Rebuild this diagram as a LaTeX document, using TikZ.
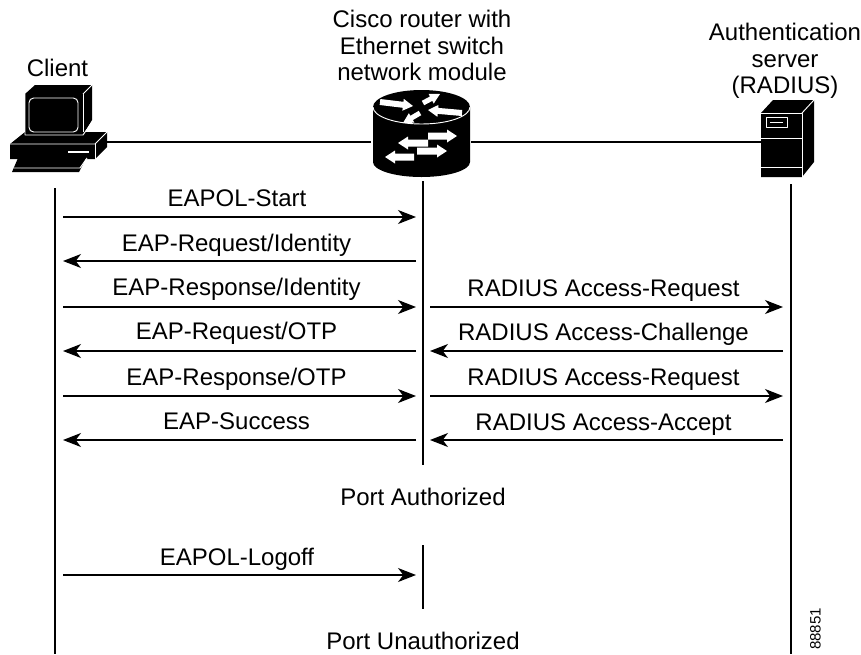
\documentclass[tikz,border=0pt]{standalone}
\usepackage{fontspec}
\setmainfont{Liberation Sans}
\usetikzlibrary{arrows.meta}
\tikzset{
 lbl/.style={inner sep=0pt,font=\fontsize{18pt}{19.7pt}\selectfont,align=center},
 mlbl/.style={lbl,anchor=base},
 life/.style={line width=0.85pt},
 msg/.style={line width=0.85pt,-{Stealth[length=13.5pt,width=10.5pt,inset=4pt]}},
 link/.style={line width=0.85pt},
 wl/.style={white,line width=0.7pt,line join=round}
}
\newcommand{\arr}[5]{% x1 y1 x2 y2 halfwidth: white block arrow
 \begin{scope}[shift={(#1,#2)}]
 \pgfmathsetmacro{\ang}{atan2(#4-#2,#3-#1)}
 \pgfmathsetmacro{\len}{veclen(#3-#1,#4-#2)}
 \fill[white,rotate=-\ang] (0,-#5) -- (\len-10,-#5) -- (\len-10,-#5-3) -- (\len,0) -- (\len-10,#5+3) -- (\len-10,#5) -- (0,#5) -- cycle;
 \end{scope}}
\begin{document}
\begin{tikzpicture}[x=0.75pt,y=-0.75pt]
\useasboundingbox (0,0) rectangle (861,654);
% coordinates
\foreach \n/\x/\y in {cT/55/188,cB/55/654,rT/423/181,rB/423/465,rT2/423/545,rB2/423/609,sT/791/184,sB/791/654,
 a1/63/217,b1/416/217,a2/416/261,b2/63/261,a3/63/307,b3/416/307,a4/416/351,b4/63/351,a5/63/396,b5/416/396,a6/416/440,b6/63/440,a7/63/575,b7/416/575,
 c3/430/307,d3/783/307,c4/783/351,d4/430/351,c5/430/396,d5/783/396,c6/783/440,d6/430/440,
 l1/105/142,l2/371/142,l3/471/142,l4/761/142}
  {\coordinate (\n) at (\x,\y);}
% links
\draw[link] (l1)--(l2);
\draw[link] (l3)--(l4);
% lifelines
\draw[life] (cT)--(cB);
\draw[life] (rT)--(rB);
\draw[life] (rT2)--(rB2);
\draw[life] (sT)--(sB);
% messages
\foreach \p/\q in {a1/b1,a2/b2,a3/b3,a4/b4,a5/b5,a6/b6,a7/b7,c3/d3,c4/d4,c5/d5,c6/d6}
  \draw[msg] (\p)--(\q);
% labels
\node[mlbl] (tClient) at (57.5,76) {Client};
\node[lbl] (tRouter) at (422,45.5) {Cisco router with\\Ethernet switch\\network module};
\node[lbl] (tServer) at (785,61) {Authentication\\server\\(RADIUS)};
\node[mlbl] (m1) at (237,206.5) {EAPOL-Start};
\node[mlbl] (m2) at (236.5,251) {EAP-Request/Identity};
\node[mlbl] (m3) at (236.5,295) {EAP-Response/Identity};
\node[mlbl] (m4) at (236.5,339.5) {EAP-Request/OTP};
\node[mlbl] (m5) at (236.5,385.5) {EAP-Response/OTP};
\node[mlbl] (m6) at (236.5,429.5) {EAP-Success};
\node[mlbl] (m7) at (237,565) {EAPOL-Logoff};
\node[mlbl] (n3) at (603.5,296) {RADIUS Access-Request};
\node[mlbl] (n4) at (603.5,340) {RADIUS Access-Challenge};
\node[mlbl] (n5) at (603.5,385.5) {RADIUS Access-Request};
\node[mlbl] (n6) at (603.5,430) {RADIUS Access-Accept};
\node[mlbl] (p1) at (423,505) {Port Authorized};
\node[mlbl] (p2) at (423,649) {Port Unauthorized};
\node[inner sep=0pt,rotate=90,font=\fontsize{11.3pt}{13pt}\selectfont] (num) at (815.5,629) {88851};
% client icon
\fill[black] (25,94) -- (35,85) -- (92,85) -- (92,120) -- (83,135) -- (25,135) -- cycle;
\draw[wl] (25,94)--(83,94)--(83,135);
\draw[wl] (83,94)--(92,85);
\draw[wl,rounded corners=3.5pt] (29,98) rectangle (78,132);
\fill[black] (10,144) -- (25,132) -- (107,132) -- (107,147) -- (95,159) -- (10,159) -- cycle;
\fill[black] (25,94)--(83,94)--(83,135)--(25,135)--cycle;
\draw[wl,rounded corners=3.5pt] (29,98) rectangle (78,132);
\draw[wl] (25,94)--(25,135)--(83,135)--(92,122);
\draw[wl] (10,144)--(95,144)--(107,132);
\draw[wl] (95,144)--(95,159);
\draw[white,line width=1pt] (68,152)--(89,152);
\fill[black] (18,158) -- (86,158) -- (79,172) -- (12,172) -- cycle;
\draw[wl] (14,168)--(80,168)--(87,158);
% router icon
\fill[black] (373,107) arc[start angle=180,end angle=360,x radius=48.5,y radius=17] -- (470,162) arc[start angle=0,end angle=180,x radius=48.5,y radius=15] -- cycle;
\draw[wl] (373,107) arc[start angle=180,end angle=0,x radius=48.5,y radius=17];
\arr{380}{102}{413}{106}{3}
\arr{462}{113}{428}{110}{3}
\arr{423}{103}{440}{94}{2.5}
\arr{420}{113}{403}{123}{2.5}
\arr{428}{136}{457}{136}{3.5}
\arr{428}{143}{398}{143}{3.5}
\arr{417}{151}{447}{151}{3.5}
\arr{414}{157}{385}{157}{3.5}
% server icon
\fill[black] (761,113) -- (773,100) -- (814,100) -- (814,162) -- (802,177) -- (761,177) -- cycle;
\draw[wl] (761,113)--(802,113)--(802,177);
\draw[wl] (802,113)--(814,100);
\draw[wl] (761,138)--(802,138);
\draw[wl] (761,167)--(802,167);
\draw[wl] (766,117) rectangle (787,127);
\draw[wl] (770,122)--(783,122);
\end{tikzpicture}
\end{document}
